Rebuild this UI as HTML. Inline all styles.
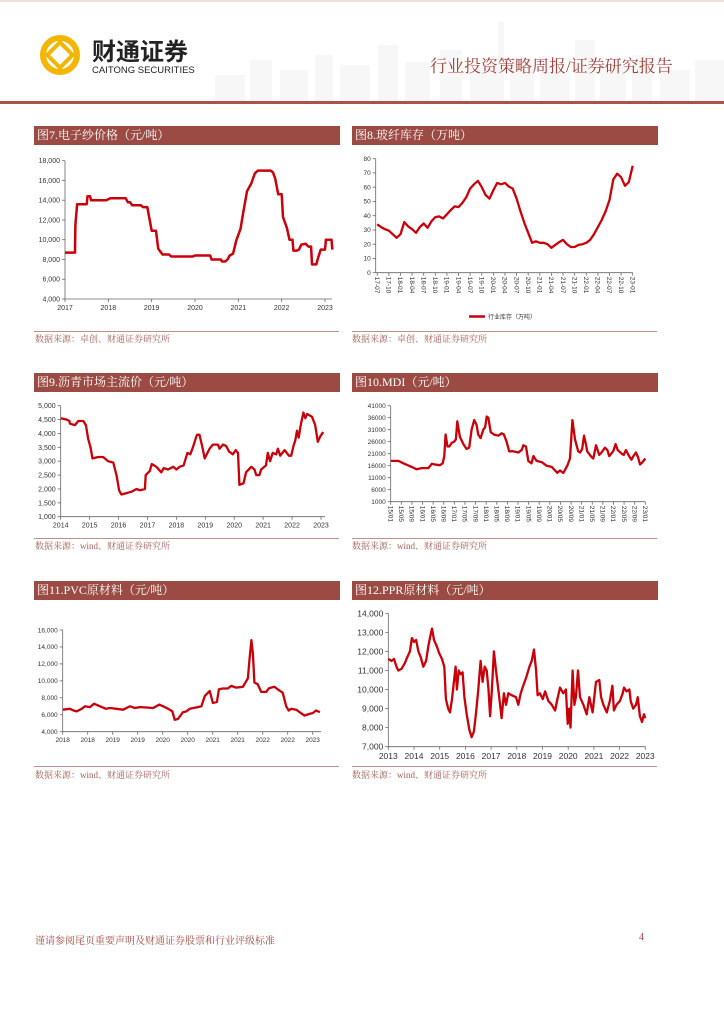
<!DOCTYPE html>
<html><head><meta charset="utf-8">
<style>
body{margin:0;background:#fff;}
#page{position:relative;width:724px;height:1024px;overflow:hidden;background:#fff;font-family:"Liberation Sans","Noto Sans CJK SC",sans-serif;}
.bar{position:absolute;height:19px;background:#9b4b44;color:#fff;font-family:"Liberation Serif","Noto Serif CJK SC",serif;font-size:12px;line-height:19px;padding-left:3px;box-sizing:border-box;}
.src{position:absolute;font-family:"Liberation Serif","Noto Serif CJK SC",serif;font-size:9px;color:#a0605a;}
.sline{position:absolute;height:1px;background:#c09090;}
</style></head><body>
<div id="page">
<svg width="724" height="104" style="position:absolute;left:0;top:0">
<rect x="0" y="0" width="724" height="2" fill="#f3dede"/>
<g fill="#f7f7f7">
<rect x="215" y="75" width="30" height="27"/><rect x="250" y="60" width="22" height="42"/><rect x="280" y="70" width="28" height="32"/><rect x="315" y="55" width="18" height="47"/><rect x="340" y="65" width="30" height="37"/><rect x="378" y="45" width="20" height="57"/><rect x="405" y="62" width="25" height="40"/><rect x="440" y="50" width="22" height="52"/><rect x="470" y="68" width="30" height="34"/><rect x="498" y="22" width="6" height="80"/><rect x="510" y="60" width="24" height="42"/><rect x="540" y="72" width="30" height="30"/><rect x="575" y="40" width="20" height="62"/><rect x="600" y="66" width="26" height="36"/><rect x="632" y="55" width="20" height="47"/><rect x="660" y="70" width="30" height="32"/><rect x="695" y="60" width="29" height="42"/>
</g>
<rect x="0" y="101" width="724" height="3" fill="#b0504a"/>
<g>
<circle cx="60" cy="55" r="17" fill="none" stroke="#f2b600" stroke-width="6"/>
<rect x="51" y="46" width="18" height="18" fill="none" stroke="#f2b600" stroke-width="4" transform="rotate(45 60 55)"/>
</g>
<text x="92" y="60" font-size="24" font-weight="bold" fill="#222" font-family="'Noto Sans CJK SC',sans-serif">财通证券</text>
<text x="92" y="73" font-size="9.5" fill="#222" font-family="'Liberation Sans',sans-serif">CAITONG SECURITIES</text>
<text x="430" y="72" font-size="17" fill="#a0403c" font-family="'Liberation Serif','Noto Serif CJK SC',serif">行业投资策略周报/证券研究报告</text>
</svg>

<div class="bar" style="left:34px;top:126px;width:306px">图7.电子纱价格（元/吨）</div>
<div class="bar" style="left:352px;top:126px;width:306px">图8.玻纤库存（万吨）</div>
<div class="bar" style="left:34px;top:373px;width:306px">图9.沥青市场主流价（元/吨）</div>
<div class="bar" style="left:352px;top:373px;width:306px">图10.MDI（元/吨）</div>
<div class="bar" style="left:34px;top:581px;width:306px">图11.PVC原材料（元/吨）</div>
<div class="bar" style="left:352px;top:581px;width:306px">图12.PPR原材料（元/吨）</div>

<div class="sline" style="left:34px;top:331px;width:305px"></div>
<div class="sline" style="left:352px;top:331px;width:305px"></div>
<div class="sline" style="left:34px;top:538px;width:305px"></div>
<div class="sline" style="left:352px;top:538px;width:305px"></div>
<div class="sline" style="left:34px;top:766px;width:305px"></div>
<div class="sline" style="left:352px;top:766px;width:305px"></div>
<div class="src" style="left:35px;top:332px">数据来源：卓创、财通证券研究所</div>
<div class="src" style="left:352px;top:332px">数据来源：卓创、财通证券研究所</div>
<div class="src" style="left:35px;top:539px">数据来源：wind、财通证券研究所</div>
<div class="src" style="left:352px;top:539px">数据来源：wind、财通证券研究所</div>
<div class="src" style="left:35px;top:768px">数据来源：wind、财通证券研究所</div>
<div class="src" style="left:352px;top:768px">数据来源：wind、财通证券研究所</div>

<div class="src" style="left:35px;top:932px;font-size:10px;color:#a04a44">谨请参阅尾页重要声明及财通证券股票和行业评级标准</div>
<div class="src" style="left:639px;top:932px;font-size:10px;color:#a04a44">4</div>

<svg id="charts" width="724" height="1024" style="position:absolute;left:0;top:0"></svg>
</div>
<script>
// ---- Chart 7: electronic yarn price (years since 2017)
const c7Years = [0,.23,.24,.28,.5,.52,.58,.6,.95,1.05,1.4,1.45,1.5,1.55,1.75,1.8,1.9,1.95,2.0,2.1,2.15,2.25,2.4,2.45,2.95,3.0,3.35,3.38,3.6,3.62,3.7,3.75,3.8,3.88,3.95,4.05,4.12,4.2,4.3,4.38,4.45,4.75,4.8,4.85,4.92,5.0,5.03,5.12,5.18,5.25,5.27,5.35,5.4,5.45,5.55,5.62,5.68,5.7,5.8,5.83,5.9,6.0,6.02,6.15,6.17];
const c7Values = [8700,8700,11500,13600,13600,14400,14400,14000,14000,14200,14200,13800,13800,13500,13500,13300,13300,12100,10900,10900,9100,8500,8500,8300,8300,8400,8400,8000,8000,7800,7800,8000,8400,8600,9900,11100,12900,14900,15700,16700,17000,17000,16800,16200,14600,14600,12300,11200,10000,10000,8900,8900,9000,9500,9600,9300,9300,7500,7500,8000,9000,9000,10000,10000,9000];
const c7YTicks = [4000,6000,8000,10000,12000,14000,16000,18000];
const c7XLabels = ['2017','2018','2019','2020','2021','2022','2023'];
// ---- Chart 8: glass fibre inventory, monthly 17-07..23-01
const c8Values = [34,32,30.5,29.5,27,24.5,27,35.5,32.5,30.5,28,32,34.5,31.5,36,39,39.5,38,41,44,46.5,46,49,53,59,62,64.5,60,54.5,52,58,63,62,63,60.5,59,52,43,35,28,21,22,21,21,20,17.5,19.5,21.5,23,20,18,18,19.5,20,21,23,27,32,37,43,51,65.5,69.5,67,61,63.5,75];
const c8YTicks = [0,10,20,30,40,50,60,70,80];
const c8XLabels = ['17-07','17-10','18-01','18-04','18-07','18-10','19-01','19-04','19-07','19-10','20-01','20-04','20-07','20-10','21-01','21-04','21-07','21-10','22-01','22-04','22-07','22-10','23-01'];
// ---- Chart 9: asphalt price (years since 2014)
const c9Years = [0,.21,.30,.32,.49,.61,.78,.87,.95,1.03,1.10,1.30,1.47,1.64,1.82,1.93,2.02,2.10,2.28,2.45,2.62,2.74,2.91,2.94,3.08,3.15,3.31,3.48,3.56,3.71,3.89,4.0,4.11,4.25,4.38,4.48,4.57,4.71,4.80,4.90,4.98,5.15,5.26,5.44,5.49,5.61,5.72,5.82,5.95,6.05,6.13,6.18,6.32,6.41,6.59,6.70,6.76,6.87,6.93,7.10,7.16,7.24,7.33,7.45,7.51,7.59,7.74,7.89,7.97,8.05,8.11,8.17,8.23,8.31,8.39,8.46,8.52,8.69,8.80,8.89,8.98,9.08];
const c9Values = [4550,4500,4450,4350,4300,4450,4450,4300,3800,3500,3100,3150,3150,3000,2950,2500,1950,1800,1850,1900,2000,1950,2000,2500,2650,2900,2800,2600,2750,2700,2800,2700,2800,2850,3300,3250,3500,3950,3950,3500,3100,3450,3600,3600,3450,3600,3550,3350,3250,3400,3300,2150,2200,2600,2800,2700,2500,2500,2700,2850,3300,3000,3300,3250,3450,3200,3400,3200,3200,3550,3750,4100,3850,4350,4750,4550,4700,4600,4300,3700,3900,4050];
const c9YTicks = [1000,1500,2000,2500,3000,3500,4000,4500,5000];
const c9XLabels = ['2014','2015','2016','2017','2018','2019','2020','2021','2022','2023'];
// ---- Chart 10: MDI (months since 2015-01)
const c10Months = [0,2.9,4.8,7.9,9.8,11.7,14.2,15.5,16.7,18.6,19.6,20.2,20.7,21.4,22.1,23,23.9,24.6,25.1,26.1,27.4,28.6,29.6,30.5,31.5,32.4,33,33.9,34.9,35.6,36.2,36.8,37.7,38.9,40.6,41.8,42.7,43.7,44.7,46.2,48.1,49.4,50,51,51.9,53.1,53.8,55,56.9,58.8,60.7,62.8,63.8,65.1,66.6,67.6,68.5,69.5,70.7,71.4,72.2,72.9,73.6,74.1,75.8,76.4,77.4,78.6,79.5,80.8,81.7,82.4,83.9,84.8,85.6,87.1,87.9,88.7,89.9,90.8,91.5,92.5,93.3,94,95,96];
const c10Values = [18000,18000,17000,15500,14500,15000,15000,16800,16500,16200,17000,20000,29000,24000,24000,25500,26000,27000,34500,28000,25000,23000,23500,31000,35000,33000,29000,27500,31000,32000,36500,36000,30000,29000,28500,29500,29000,26000,22000,22000,21500,22500,24500,24000,18000,17000,20000,18000,17500,16000,15500,13000,14000,13000,16000,19000,35000,27000,22000,21500,23000,28500,25000,22000,19500,19000,24500,20500,21500,23500,22500,20000,22000,25000,22500,21000,20500,22500,20000,18500,20000,21500,19500,16500,17500,19000];
const c10YTicks = [1000,6000,11000,16000,21000,26000,31000,36000,41000];
const c10XLabels = ['15/01','15/05','15/09','16/01','16/05','16/09','17/01','17/05','17/09','18/01','18/05','18/09','19/01','19/05','19/09','20/01','20/05','20/09','21/01','21/05','21/09','22/01','22/05','22/09','23/01'];
// ---- Chart 11: PVC (half-years since 2018)
const c11Halves = [0,.29,.43,.56,.76,.89,1.09,1.25,1.49,1.73,1.89,2.15,2.42,2.69,2.89,3.09,3.35,3.62,3.86,4.02,4.22,4.39,4.48,4.61,4.81,4.95,5.08,5.41,5.55,5.68,5.88,6.01,6.17,6.25,6.41,6.61,6.74,6.94,7.21,7.41,7.47,7.55,7.61,7.67,7.8,7.94,8.14,8.24,8.34,8.47,8.6,8.8,8.94,9.04,9.14,9.34,9.53,9.67,9.87,10,10.13,10.29];
const c11Values = [6600,6700,6500,6400,6700,7000,6900,7300,7000,6700,6800,6700,6600,7000,6800,6900,6850,6800,7200,7000,6700,6400,5400,5500,6300,6400,6700,6900,7000,8200,8800,7400,7500,9000,9100,9100,9400,9200,9300,10300,12400,14800,13200,9800,9600,8700,8700,9100,9200,9300,9000,8600,7000,6500,6700,6600,6200,5900,6100,6200,6500,6300];
const c11YTicks = [4000,6000,8000,10000,12000,14000,16000];
const c11XLabels = ['2018','2018','2019','2019','2020','2020','2021','2021','2022','2022','2023'];
// ---- Chart 12: PPR (years since 2013)
const c12Years = [0,.13,.22,.32,.39,.52,.65,.74,.84,.92,1.0,1.08,1.17,1.26,1.36,1.47,1.56,1.65,1.70,1.78,1.88,1.98,2.09,2.18,2.24,2.33,2.40,2.48,2.56,2.62,2.67,2.74,2.81,2.89,2.96,3.05,3.15,3.24,3.33,3.41,3.50,3.59,3.67,3.75,3.83,3.90,3.96,4.03,4.11,4.19,4.28,4.35,4.41,4.50,4.58,4.67,4.80,4.97,5.06,5.15,5.25,5.38,5.49,5.58,5.67,5.75,5.81,5.90,6.01,6.10,6.23,6.36,6.49,6.58,6.68,6.81,6.91,6.98,7.04,7.09,7.17,7.24,7.30,7.38,7.46,7.59,7.72,7.82,7.95,8.08,8.21,8.28,8.37,8.50,8.62,8.72,8.78,8.88,9.01,9.12,9.17,9.27,9.38,9.43,9.53,9.64,9.71,9.79,9.87,9.95,10.0];
const c12Values = [11600,11500,11600,11200,11000,11100,11400,11700,12000,12700,12500,12600,12000,11700,11200,11500,12300,12900,13200,12600,12300,11900,11600,11200,9500,9000,8800,9500,10500,11200,10000,11000,10800,10900,9600,8700,7900,7500,7800,8700,10000,11500,10400,11200,11000,10000,8600,10000,12000,11000,10000,9200,8500,9800,9200,9800,9700,9600,9200,9800,10200,10700,11200,11500,12100,11000,9700,9800,9500,9900,9400,9200,8900,9500,10100,9800,10000,8200,9000,8000,11000,9200,9600,11000,9600,9200,8700,9600,8800,10400,10500,9600,9200,8800,9400,10200,8900,9200,9400,9800,10100,9900,10000,9400,9000,9200,9600,8600,8300,8700,8500];
const c12YTicks = [7000,8000,9000,10000,11000,12000,13000,14000];
const c12XLabels = ['2013','2014','2015','2016','2017','2018','2019','2020','2021','2022','2023'];

const svg = document.getElementById('charts');
const NS = 'http://www.w3.org/2000/svg';
function mk(tag, attrs, parent){const e=document.createElementNS(NS,tag);for(const k in attrs)e.setAttribute(k,attrs[k]);(parent||svg).appendChild(e);return e;}
function fmt(v,comma){return comma?v.toLocaleString('en-US'):String(v);}
const RED='#c8000a';

function drawChart(o){
  const g=mk('g',{});
  
  
  const yS=v=>o.y0+(v-o.yMin)/(o.yMax-o.yMin)*(o.y1-o.y0);
  const xS=t=>o.x0+(t-o.tMin)/(o.tMax-o.tMin)*(o.x1-o.x0);
  const ya=mk('line',{x1:o.x0,x2:o.x0,y1:o.y1,y2:o.y0,stroke:'#666','stroke-width':0.8},g);
  
  
  const xa=mk('line',{x1:o.x0,x2:o.xEnd||o.x1,y1:o.y0,y2:o.y0,stroke:'#666','stroke-width':0.8},g);
  
  
  o.yTicks.forEach(v=>{
    const y=yS(v);
    mk('line',{x1:o.x0-3,x2:o.x0,y1:y,y2:y,stroke:'#666','stroke-width':0.8},g);
    const t=mk('text',{x:o.x0-5,y:y+o.fs*0.35,'font-size':o.fs,'text-anchor':'end',fill:'#333'},g);
    
    
    t.textContent=fmt(v,o.comma);
  });
  o.xLabels.forEach((lab,i)=>{
    const x=xS(o.labelT(i));
    mk('line',{x1:x,x2:x,y1:o.y0,y2:o.y0+3,stroke:'#666','stroke-width':0.8},g);
    let t;
    if(o.rot){
      t=mk('text',{x:0,y:0,'font-size':o.fs,fill:'#333',transform:`translate(${x-o.fs*0.35},${o.y0+4}) rotate(90)`},g);
    } else {
      t=mk('text',{x:x,y:o.y0+o.fs+4,'font-size':o.fs,'text-anchor':'middle',fill:'#333'},g);
    }
    
    
    t.textContent=lab;
  });
  let d='';
  o.vals.forEach((v,i)=>{
    const x=xS(o.ts[i]),y=yS(v);
    d+=(i?'L':'M')+x.toFixed(1)+','+y.toFixed(1);
  });
  const p=mk('path',{d:d,fill:'none',stroke:RED,'stroke-width':o.sw||2.3,'stroke-linejoin':'round'},g);
  
  
  return g;
}

drawChart({name:'chart7-yarn-price',x0:65,x1:325,xEnd:332,y0:299,y1:160.7,yMin:4000,yMax:18000,tMin:0,tMax:6,
  ts:c7Years,vals:c7Values,yTicks:c7YTicks,xLabels:c7XLabels,labelT:i=>i,fs:7,comma:true,sw:2.5});
drawChart({name:'chart8-fiber-inventory',x0:375.7,x1:632.7,y0:272.7,y1:158.7,yMin:0,yMax:80,tMin:-0.4,tMax:66,
  ts:c8Values.map((v,i)=>i),vals:c8Values,yTicks:c8YTicks,xLabels:c8XLabels,labelT:i=>i*3,fs:6.5,comma:false,rot:true});
drawChart({name:'chart9-asphalt-price',x0:60.7,x1:321,xEnd:325,y0:516.7,y1:405.7,yMin:1000,yMax:5000,tMin:0,tMax:9,
  ts:c9Years,vals:c9Values,yTicks:c9YTicks,xLabels:c9XLabels,labelT:i=>i,fs:7,comma:true});
drawChart({name:'chart10-mdi-price',x0:390.7,x1:645.3,y0:501.7,y1:405.7,yMin:1000,yMax:41000,tMin:0,tMax:96,
  ts:c10Months,vals:c10Values,yTicks:c10YTicks,xLabels:c10XLabels,labelT:i=>i*4,fs:6.5,comma:false,rot:true});
drawChart({name:'chart11-pvc-price',x0:62.7,x1:312.7,xEnd:321,y0:731.7,y1:630,yMin:4000,yMax:16000,tMin:0,tMax:10,
  ts:c11Halves,vals:c11Values,yTicks:c11YTicks,xLabels:c11XLabels,labelT:i=>i,fs:6.5,comma:true});
drawChart({name:'chart12-ppr-price',x0:388.3,x1:645.3,y0:746.7,y1:613.3,yMin:7000,yMax:14000,tMin:0,tMax:10,
  ts:c12Years,vals:c12Values,yTicks:c12YTicks,xLabels:c12XLabels,labelT:i=>i,fs:8.5,comma:true});

// chart 8 legend
const lg=mk('line',{x1:469,x2:485,y1:316.5,y2:316.5,stroke:RED,'stroke-width':2.5});


const lt=mk('text',{x:488,y:319,'font-size':6,fill:'#333'});


lt.textContent='行业库存（万吨）';
</script>
</body></html>
